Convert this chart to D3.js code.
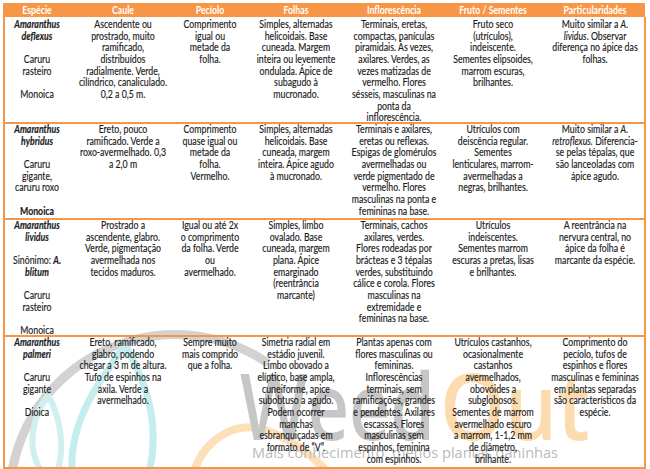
<!DOCTYPE html>
<html>
<head>
<meta charset="utf-8">
<script src="https://cdn.jsdelivr.net/npm/d3@7"></script>
<style>
body { margin: 0; background: #fff; }
svg { display: block; }
</style>
</head>
<body>
<svg id="chart" width="650" height="469"></svg>
<script>
// table content, one array per column, one entry per species row, one string per printed line
// "**" toggles bold, "_" toggles italic
var headers = ["Espécie", "Caule", "Pecíolo", "Folhas", "Inflorescência", "Fruto / Sementes", "Particularidades"];

var especie = [
    ["**_Amaranthus_**", "**_deflexus_**", "", "Caruru", "rasteiro", "", "Monoica"],
    ["**_Amaranthus_**", "**_hybridus_**", "", "Caruru", "gigante,", "caruru roxo", "", "**Monoica**"],
    ["**_Amaranthus_**", "**_lividus_**", "", "Sinônimo: **_A._**", "**_blitum_**", "", "Caruru", "rasteiro", "", "Monoica"],
    ["**_Amaranthus_**", "**_palmeri_**", "", "Caruru", "gigante", "", "Dioica"]
];

var caule = [
    ["Ascendente ou", "prostrado, muito", "ramificado,", "distribuídos", "radialmente. Verde,", "cilíndrico, canaliculado.", "0,2 a 0,5 m."],
    ["Ereto, pouco", "ramificado. Verde a", "roxo-avermelhado. 0,3", "a 2,0 m"],
    ["Prostrado a", "ascendente, glabro.", "Verde, pigmentação", "avermelhada nos", "tecidos maduros."],
    ["Ereto, ramificado,", "glabro, podendo", "chegar a 3 m de altura.", "Tufo de espinhos na", "axila. Verde a", "avermelhado."]
];

var peciolo = [
    ["Comprimento", "igual ou", "metade da", "folha."],
    ["Comprimento", "quase igual ou", "metade da", "folha.", "Vermelho."],
    ["Igual ou até 2x", "o comprimento", "da folha. Verde", "ou", "avermelhado."],
    ["Sempre muito", "mais comprido", "que a folha."]
];

var folhas = [
    ["Simples, alternadas", "helicoidais. Base", "cuneada. Margem", "inteira ou levemente", "ondulada. Ápice de", "subagudo à", "mucronado."],
    ["Simples, alternadas", "helicoidais. Base", "cuneada, margem", "inteira. Ápice agudo", "à mucronado."],
    ["Simples, limbo", "ovalado. Base", "cuneada, margem", "plana. Ápice", "emarginado", "(reentrância", "marcante)"],
    ["Simetria radial em", "estádio juvenil.", "Limbo obovado a", "elíptico, base ampla,", "cuneiforme, apice", "subobtuso a agudo.", "Podem ocorrer", "manchas", "esbranquiçadas em", "formato de “V”."]
];

var inflorescencia = [
    ["Terminais, eretas,", "compactas, panículas", "piramidais. Às vezes,", "axilares. Verdes, as", "vezes matizadas de", "vermelho. Flores", "sésseis, masculinas na", "ponta da", "inflorescência."],
    ["Terminais e axilares,", "eretas ou reflexas.", "Espigas de glomérulos", "avermelhadas ou", "verde pigmentado de", "vermelho. Flores", "masculinas na ponta e", "femininas na base."],
    ["Terminais, cachos", "axilares, verdes.", "Flores rodeadas por", "brácteas e 3 tépalas", "verdes, substituindo", "cálice e corola. Flores", "masculinas na", "extremidade e", "femininas na base."],
    ["Plantas apenas com", "flores masculinas ou", "femininas.", "Inflorescências", "terminais, sem", "ramificações, grandes", "e pendentes. Axilares", "escassas. Flores", "masculinas sem", "espinhos, feminina", "com espinhos."]
];

var fruto = [
    ["Fruto seco", "(utrículos),", "indeiscente.", "Sementes elipsoides,", "marrom escuras,", "brilhantes."],
    ["Utrículos com", "deiscência regular.", "Sementes", "lenticulares, marrom-", "avermelhadas a", "negras, brilhantes."],
    ["Utrículos", "indeiscentes.", "Sementes marrom", "escuras a pretas, lisas", "e brilhantes."],
    ["Utrículos castanhos,", "ocasionalmente", "castanhos", "avermelhados,", "obovóides a", "subglobosos.", "Sementes de marrom", "avermelhado escuro", "a marrom, 1-1,2 mm", "de diâmetro,", "brilhante."]
];

var particularidades = [
    ["Muito similar a _A._", "_lividus_. Observar", "diferença no ápice das", "folhas."],
    ["Muito similar a _A._", "_retroflexus._ Diferencia-", "se pelas tépalas, que", "são lanceoladas com", "ápice agudo."],
    ["A reentrância na", "nervura central, no", "ápice da folha é", "marcante da espécie."],
    ["Comprimento do", "pecíolo, tufos de", "espinhos e flores", "masculinas e femininas", "em plantas separadas", "são característicos da", "espécie."]
];

var columns = [especie, caule, peciolo, folhas, inflorescencia, fruto, particularidades];

var watermarkWords = ["Weed", "Out"];
var watermarkTagline = "Mais conhecimento, menos plantas daninhas";

// layout
var orange = "#F79646";
var font = "Lato, 'Open Sans', sans-serif";
var fontSize = 10.8;
var colEdges = [4, 70, 176, 244, 348, 440, 546, 644];
var rowEdges = [17, 122, 218, 335, 467];

var svg = d3.select("#chart");

var xCenter = d3.scaleOrdinal()
    .domain(headers)
    .range(headers.map((h, i) => (colEdges[i] + colEdges[i + 1]) / 2));
var lineY = d3.scaleLinear().domain([0, 1]).range([0, 11.65]);

// squeeze the substitute font to Calibri-like widths
var probe = svg.append("text")
    .attr("font-family", font).attr("font-size", fontSize)
    .text("chegar a 3 m de altura.");
var sx = 87 / probe.node().getComputedTextLength();
probe.remove();

// ---- watermark (faint logo behind the table) ----
var wm = svg.append("g").attr("class", "watermark");
wm.append("path")
    .attr("transform", "translate(175,500)")
    .attr("d", d3.arc().innerRadius(161).outerRadius(170).startAngle(-1.78).endAngle(0.6)())
    .attr("fill", "#d2d2d2");
wm.append("path")
    .attr("d", "M125,345 C100,380 70,420 72,469 M125,345 C145,380 160,420 150,469")
    .attr("fill", "none").attr("stroke", "#c4eded").attr("stroke-width", 7);
wm.append("path")
    .attr("d", "M48,395 C30,420 28,450 40,469 M48,395 C62,420 64,450 58,469")
    .attr("fill", "none").attr("stroke", "#d0f0f0").attr("stroke-width", 6);
wm.append("path")
    .attr("d", "M195,469 C205,440 235,420 265,430 C295,440 310,455 325,469")
    .attr("fill", "none").attr("stroke", "#fde0ba").attr("stroke-width", 8);
wm.append("text")
    .attr("x", 240).attr("y", 440)
    .attr("font-family", "'Open Sans', sans-serif").attr("font-size", 92).attr("font-weight", 600)
    .attr("textLength", 195).attr("lengthAdjust", "spacingAndGlyphs")
    .attr("fill", "#c6c6c6")
    .text(watermarkWords[0]);
wm.append("text")
    .attr("x", 440).attr("y", 440)
    .attr("font-family", "'Open Sans', sans-serif").attr("font-size", 92).attr("font-weight", 600)
    .attr("textLength", 150).attr("lengthAdjust", "spacingAndGlyphs")
    .attr("fill", "#fcdcae")
    .text(watermarkWords[1]);
wm.append("text")
    .attr("x", 252).attr("y", 458)
    .attr("font-family", "'Open Sans', sans-serif").attr("font-size", 15)
    .attr("textLength", 306).attr("lengthAdjust", "spacingAndGlyphs")
    .attr("fill", "#bababa")
    .text(watermarkTagline);

// ---- header band ----
svg.append("rect")
    .attr("x", 3).attr("y", 3)
    .attr("width", colEdges[colEdges.length - 1] - 2).attr("height", rowEdges[0] - 3)
    .attr("fill", orange);

svg.selectAll("text.header")
    .data(headers).enter().append("text")
    .attr("class", "header")
    .attr("transform", h => "translate(" + xCenter(h) + ",14) scale(" + sx + ",1)")
    .attr("text-anchor", "middle")
    .attr("font-family", font).attr("font-size", fontSize).attr("font-weight", "bold")
    .attr("fill", "#fff")
    .text(h => h);

// ---- borders ----
svg.append("rect")
    .attr("x", 3).attr("y", rowEdges[0])
    .attr("width", 2).attr("height", rowEdges[4] - rowEdges[0] + 2)
    .attr("fill", orange);
svg.append("rect")
    .attr("x", colEdges[7]).attr("y", rowEdges[0])
    .attr("width", 2).attr("height", rowEdges[4] - rowEdges[0] + 2)
    .attr("fill", orange);
svg.selectAll("rect.rowline")
    .data(rowEdges.slice(1)).enter().append("rect")
    .attr("class", "rowline")
    .attr("x", 3).attr("y", d => d)
    .attr("width", colEdges[7] - 1).attr("height", 2)
    .attr("fill", orange);

// ---- cell text ----
function segments(line) {
    var out = [], bold = false, italic = false;
    line.split(/(\*\*|_)/).forEach(tok => {
        if (tok === "**") bold = !bold;
        else if (tok === "_") italic = !italic;
        else if (tok !== "") out.push({ t: tok, b: bold, i: italic });
    });
    return out;
}

var cells = [];
columns.forEach((col, c) => {
    col.forEach((lines, r) => {
        lines.forEach((line, k) => {
            if (line === "") return;
            cells.push({ col: headers[c], row: r, k: k, line: line });
        });
    });
});

var lineText = svg.selectAll("text.cell")
    .data(cells).enter().append("text")
    .attr("class", "cell")
    .attr("transform", d => "translate(" + xCenter(d.col) + "," + (rowEdges[d.row] + 11 + lineY(d.k)) + ") scale(" + sx + ",1)")
    .attr("text-anchor", "middle")
    .attr("font-family", font).attr("font-size", fontSize)
    .attr("fill", "#1a1a1a")
    .attr("stroke", "#1a1a1a").attr("stroke-width", 0.15);

lineText.selectAll("tspan")
    .data(d => segments(d.line)).enter().append("tspan")
    .attr("font-weight", s => s.b ? "bold" : null)
    .attr("font-style", s => s.i ? "italic" : null)
    .text(s => s.t);
</script>
</body>
</html>
